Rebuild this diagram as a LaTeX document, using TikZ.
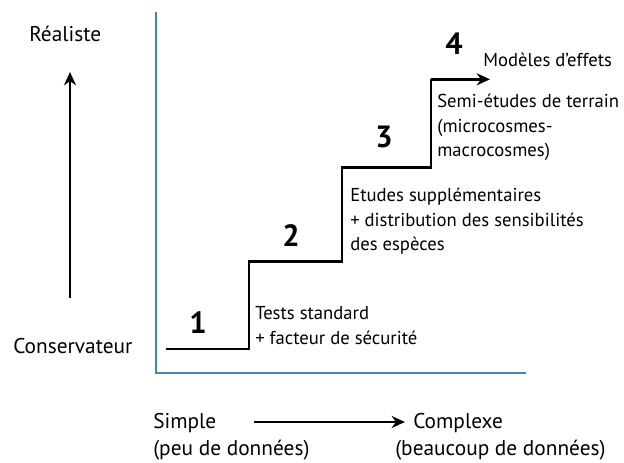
\documentclass[tikz,border=0pt]{standalone}
\usepackage{fontspec}
\setmainfont{PT Sans}
\usetikzlibrary{arrows.meta}
\definecolor{axisblue}{HTML}{4A82B8}
\begin{document}
\begin{tikzpicture}[x=0.75pt,y=-0.75pt,
  lbl/.style={inner sep=0pt,font=\fontsize{14}{18.4}\selectfont,align=left},
  axl/.style={inner sep=0pt,font=\fontsize{16}{19}\selectfont},
  num/.style={inner sep=0pt,font=\fontsize{23}{26}\selectfont\bfseries},
  stair/.style={line width=2pt},
  arr/.style={line width=2pt,-{Stealth[length=10pt,width=9pt]}}]
\useasboundingbox (0,0) rectangle (624,463);
% axes
\coordinate (ytop) at (155.7,12);
\coordinate (orig) at (155.7,373);
\coordinate (xend) at (526,373);
\draw[axisblue,line width=1.5pt] (ytop) -- (orig) -- (xend);
% staircase
\coordinate (s0) at (166,349);
\coordinate (s1) at (249,349);
\coordinate (s2) at (249,261.7);
\coordinate (s3) at (342,261.7);
\coordinate (s4) at (342,167.7);
\coordinate (s5) at (431,167.7);
\coordinate (s6) at (431,79.3);
\coordinate (s7) at (490,79.3);
\draw[stair] (s0) -- (s1) -- (s2) -- (s3) -- (s4) -- (s5) -- (s6);
\draw[arr] (s6) -- (s7);
% numbers
\node[num,anchor=base] (n1) at (198,333) {1};
\node[num,anchor=base] (n2) at (291,247) {2};
\node[num,anchor=base] (n3) at (384,148) {3};
\node[num,anchor=base] (n4) at (454,55) {4};
% step labels (anchor base = last line)
\node[lbl,anchor=base west] (t1) at (255,344) {Tests standard\\+ facteur de sécurité};
\node[lbl,anchor=base west] (t2) at (350,251) {Etudes supplémentaires\\+ distribution des sensibilités\\des espèces};
\node[lbl,anchor=base west] (t3) at (437,157) {Semi-études de terrain\\(microcosmes-\\macrocosmes)};
\node[lbl,anchor=base west] (t4) at (483,67) {Modèles d’effets};
% vertical axis
\node[axl,anchor=base west] (real) at (29,42) {Réaliste};
\node[axl,anchor=base west] (cons) at (13,353) {Conservateur};
\coordinate (va) at (70,298);
\coordinate (vb) at (70,72);
\draw[arr] (va) -- (vb);
% horizontal axis labels
\node[axl,anchor=base west] (simple) at (153,428) {Simple};
\node[axl,anchor=base west] (peu) at (153,455) {(peu de données)};
\node[axl,anchor=base west] (comp) at (413,428) {Complexe};
\node[axl,anchor=base west] (beau) at (395,455) {(beaucoup de données)};
\coordinate (ha) at (254,422);
\coordinate (hb) at (405,422);
\draw[arr] (ha) -- (hb);
\end{tikzpicture}
\end{document}
